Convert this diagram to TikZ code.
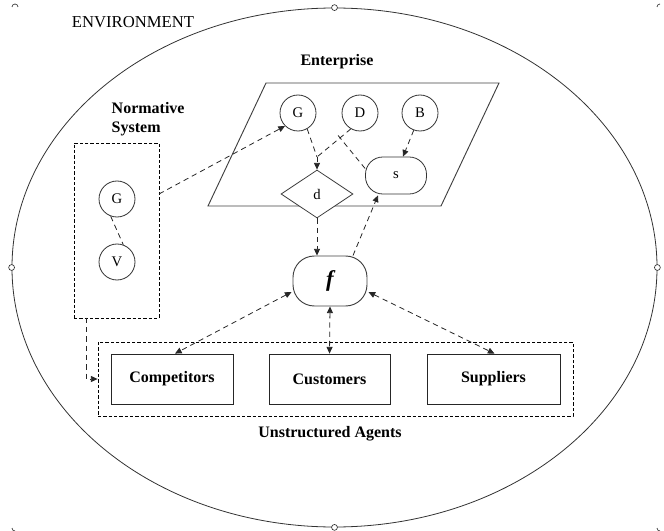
\documentclass[tikz,border=0pt]{standalone}
\usepackage{fontspec}
\setmainfont{Liberation Serif}
\usetikzlibrary{shapes.geometric,arrows.meta,calc}
\begin{document}
\begin{tikzpicture}[x=0.75pt,y=-0.75pt,
 circ/.style={circle, draw=black!80, line width=0.6pt, minimum size=27pt, inner sep=0pt, font=\fontsize{11}{13}\selectfont},
 agent/.style={rectangle, draw=black!85, line width=0.6pt, minimum height=37.5pt, inner sep=0pt, font=\fontsize{12}{14}\selectfont\bfseries},
 dasharrow/.style={draw=black!85, line width=0.6pt, dash pattern=on 4pt off 3pt, -{Triangle[length=5pt,width=4.5pt]}},
 dashboth/.style={dasharrow, {Triangle[length=5pt,width=4.5pt]}-{Triangle[length=5pt,width=4.5pt]}},
 dashline/.style={draw=black!85, line width=0.6pt, dash pattern=on 4pt off 3pt},
 fence/.style={draw=black, line width=0.6pt, dash pattern=on 2.5pt off 1.5pt},
 lbl/.style={font=\fontsize{12}{14}\selectfont\bfseries},
 handle/.style={draw=black!80, fill=white, line width=0.5pt}
]
\useasboundingbox (0,0) rectangle (664,531);

% environment
\node[ellipse, draw=black!80, line width=0.6pt, minimum width=483.75pt, minimum height=389.25pt, inner sep=0pt] (env) at (334.5,267.5) {};
\node[font=\fontsize{12.5}{14}\selectfont] (envlbl) at (133,22) {ENVIRONMENT};

% handles
\foreach \p in {env.north, env.south, env.west, env.east}
  \draw[handle] (\p) circle (2.2pt);
\draw[black!80, line width=0.5pt] (12,7) arc (180:360:3);
\draw[black!80, line width=0.5pt] (657,7) arc (180:270:3);
\draw[black!80, line width=0.5pt] (12,528) arc (180:90:3);
\draw[black!80, line width=0.5pt] (657,528) arc (180:90:3);

% enterprise
\node[lbl] (entlbl) at (337,62) {Enterprise};
\coordinate (p1) at (266,83);
\coordinate (p2) at (499,83);
\coordinate (p3) at (441,206);
\coordinate (p4) at (208,206);
\draw[draw=black!75, line width=0.7pt] (p1) -- (p2) -- (p3) -- (p4) -- cycle;

\node[circ] (G1) at (298,113) {G};
\node[circ] (D) at (360,113) {D};
\node[circ] (B) at (420,113) {B};
\node[draw=black!80, line width=0.6pt, rectangle, rounded corners=13pt, minimum width=45.75pt, minimum height=27.75pt, inner sep=0pt, font=\fontsize{11}{13}\selectfont] (s) at (396,175.5) {s};
\node[diamond, aspect=1.5, draw=black!75, line width=0.6pt, fill=white, minimum width=54pt, minimum height=36pt, inner sep=0pt, font=\fontsize{11}{13}\selectfont] (d) at (317,194) {d};

% f
\node[draw=black!75, line width=0.7pt, rectangle, rounded corners=16pt, minimum width=55.5pt, minimum height=37.5pt, inner sep=0pt, font=\fontsize{17}{19}\selectfont\bfseries\itshape] (f) at (330,281) {f};

% normative system
\node[lbl, align=left, anchor=west] (nslbl) at (107,119) {Normative\\System};
\node[fence, rectangle, minimum width=63.75pt, minimum height=131.25pt, inner sep=0pt] (nbox) at (116.5,230.5) {};
\node[circ] (G2) at (117,199) {G};
\node[circ] (V) at (117,262) {V};

% unstructured agents
\node[fence, rectangle, minimum width=356.25pt, minimum height=55.5pt, inner sep=0pt] (ubox) at (335.5,379) {};
\node[agent, minimum width=91.5pt] (comp) at (172,379) {Competitors};
\node[agent, minimum width=90.75pt] (cust) at (329.5,379) {Customers};
\node[agent, minimum width=99.75pt] (supp) at (493.5,379) {Suppliers};
\node[lbl] (ualbl) at (330,434) {Unstructured Agents};

% connectors
\coordinate (nbstart) at (159,194);
\draw[dasharrow] (nbstart) -- (G1.225);
\draw[dashline] (G2.250) -- (V.70);
\coordinate (junc) at (317,157);
\draw[dashline] (G1.300) -- (junc);
\draw[dashline] (D.240) -- (junc);
\draw[dasharrow] (junc) -- (d.north);
\coordinate (br) at ($(D)!0.51!(junc)$);
\draw[dashline] (br) -- ($(s.west)+(0,-7)$);
\draw[dasharrow] (B.250) -- ($(s.north)+(7,0)$);
\draw[dasharrow] (d.south) -- (d.south |- f.north);
\draw[dasharrow] ($(f.north)+(23,0)$) -- ($(s.south)+(-18,1)$);
\draw[dashboth] ($(f.west)+(-1,11)$) -- ($(comp.north)+(3,0)$);
\draw[dashboth] (f.south) -- (cust.north);
\draw[dashboth] ($(f.east)+(1,11)$) -- ($(supp.north)+(1,0)$);
\coordinate (nbout) at (86,317.5);
\draw[dasharrow] (nbout) |- (ubox.west);
\end{tikzpicture}
\end{document}
